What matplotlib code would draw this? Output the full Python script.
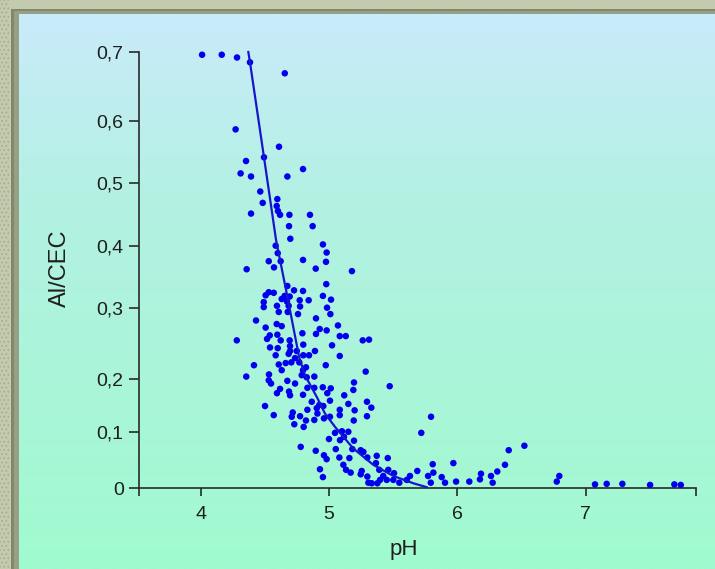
import numpy as np
import matplotlib
matplotlib.use("Agg")
import matplotlib.pyplot as plt
from matplotlib.colors import LinearSegmentedColormap
from matplotlib.patches import Rectangle
from matplotlib.scale import FuncScale

plt.rcParams['font.family'] = ['Liberation Sans', 'DejaVu Sans']
plt.rcParams['hatch.linewidth'] = 0.6

# ---------------- data ----------------
ph = [
    4.012, 4.165, 4.284, 4.385, 4.656, 4.273, 4.611, 4.494, 4.354, 4.798,
    4.312, 4.393, 4.676, 4.465, 4.598, 4.484, 4.593, 4.603, 4.393, 4.619,
    4.692, 4.852, 4.689, 4.873, 4.699,
    4.585, 4.953, 4.601, 4.982, 4.531, 4.624, 4.798, 4.977, 4.359, 4.572,
    4.897, 5.179, 4.979, 4.676, 4.531, 4.570, 4.728, 4.798, 4.507, 4.655,
    4.694, 4.953, 4.492, 4.632, 4.673, 4.772, 4.842, 5.016, 4.492, 4.595,
    4.686, 4.775, 4.985, 4.609, 4.679, 4.759, 5.011, 4.432, 4.899, 4.507,
    4.593, 4.632, 4.928, 5.070, 4.982, 4.793, 4.899, 4.539, 4.598, 5.084,
    5.131, 4.282, 4.518, 4.624, 4.694, 5.263, 5.312, 4.541, 4.601, 4.697,
    4.800, 5.024, 4.697, 4.749, 4.891, 4.585, 4.686, 4.800, 4.845, 5.084,
    4.736, 4.609, 4.663, 4.707, 4.769, 4.416, 4.975, 4.632, 4.798, 4.821,
    4.356, 4.533, 4.788, 4.827, 4.886, 5.286, 4.531, 4.549, 4.676, 4.736,
    4.619, 4.832, 4.886, 4.952, 5.014, 5.195, 5.473, 4.595, 4.689, 4.697,
    4.798, 4.987, 5.119, 5.190,
    5.151, 5.296, 5.330, 5.200, 5.084, 5.084, 5.193, 5.296, 5.008, 5.008,
    4.502, 4.570, 4.718, 4.710, 4.775, 4.832, 4.866, 4.905, 4.925, 4.956,
    4.910, 4.886, 4.821, 4.730, 4.803, 4.961, 5.000, 4.780, 4.897, 4.961,
    4.982, 4.930, 4.953,
    5.053, 5.081, 5.047, 5.086, 5.117, 5.101, 5.151, 5.195, 5.182, 5.112,
    5.133, 5.159, 5.169, 5.247, 5.268, 5.299, 5.255, 5.247, 5.299, 5.307,
    5.372, 5.366, 5.392, 5.458, 5.462, 5.423, 5.398, 5.507, 5.501, 5.548,
    5.333, 5.377, 5.450, 5.606, 5.631, 5.688, 5.719, 5.795,
    5.772, 5.813, 5.793, 5.878, 5.904, 5.990, 6.093, 6.184, 6.176, 6.262,
    6.275, 6.311, 6.794, 6.774, 7.072, 7.163, 7.285, 7.501, 7.690, 7.740,
    5.808, 5.969, 6.371, 6.400, 6.522,
]
al_cec = [
    0.696, 0.696, 0.692, 0.685, 0.669, 0.586, 0.558, 0.541, 0.535, 0.522,
    0.515, 0.510, 0.510, 0.486, 0.474, 0.468, 0.463, 0.455, 0.451, 0.449,
    0.449, 0.449, 0.431, 0.431, 0.411,
    0.400, 0.402, 0.388, 0.389, 0.375, 0.375, 0.377, 0.374, 0.362, 0.365,
    0.363, 0.359, 0.338, 0.335, 0.325, 0.324, 0.328, 0.327, 0.320, 0.319,
    0.318, 0.319, 0.309, 0.314, 0.310, 0.312, 0.312, 0.313, 0.301, 0.303,
    0.303, 0.302, 0.300, 0.294, 0.294, 0.291, 0.291, 0.282, 0.285, 0.272,
    0.277, 0.274, 0.270, 0.275, 0.268, 0.264, 0.263, 0.261, 0.262, 0.260,
    0.260, 0.254, 0.256, 0.254, 0.254, 0.254, 0.255, 0.244, 0.243, 0.246,
    0.248, 0.247, 0.239, 0.239, 0.239, 0.233, 0.235, 0.233, 0.233, 0.232,
    0.229, 0.220, 0.222, 0.223, 0.223, 0.219, 0.219, 0.212, 0.212, 0.216,
    0.203, 0.206, 0.205, 0.202, 0.203, 0.210, 0.197, 0.191, 0.196, 0.191,
    0.181, 0.183, 0.183, 0.184, 0.182, 0.193, 0.186, 0.173, 0.176, 0.169,
    0.170, 0.173, 0.169, 0.179,
    0.153, 0.157, 0.146, 0.141, 0.142, 0.132, 0.122, 0.130, 0.129, 0.159,
    0.149, 0.132, 0.137, 0.129, 0.130, 0.142, 0.157, 0.145, 0.151, 0.149,
    0.135, 0.123, 0.122, 0.115, 0.110, 0.126, 0.088, 0.074, 0.067, 0.059,
    0.052, 0.034, 0.020,
    0.070, 0.055, 0.099, 0.086, 0.092, 0.102, 0.101, 0.085, 0.070, 0.042,
    0.033, 0.054, 0.028, 0.068, 0.065, 0.055, 0.031, 0.025, 0.021, 0.010,
    0.058, 0.045, 0.033, 0.054, 0.033, 0.022, 0.015, 0.027, 0.015, 0.010,
    0.009, 0.009, 0.015, 0.015, 0.022, 0.031, 0.099, 0.129,
    0.022, 0.028, 0.010, 0.020, 0.010, 0.012, 0.012, 0.026, 0.016, 0.022,
    0.010, 0.030, 0.022, 0.012, 0.007, 0.008, 0.008, 0.006, 0.007, 0.006,
    0.043, 0.045, 0.042, 0.068, 0.076,
]

# fitted curve
curve_ph = [4.372, 4.385, 4.494, 4.588, 4.676, 4.767, 4.813, 4.905, 4.969,
            5.051, 5.190, 5.345, 5.501, 5.657, 5.761]
curve_ratio = [0.700, 0.685, 0.541, 0.409, 0.318, 0.231, 0.205, 0.166, 0.135,
               0.109, 0.071, 0.042, 0.022, 0.009, 0.002]

x_ticks = [4, 5, 6, 7]
x_tick_labels = ["4", "5", "6", "7"]
y_ticks = [0.0, 0.1, 0.2, 0.3, 0.4, 0.5, 0.6, 0.7]
y_tick_labels = ["0", "0,1", "0,2", "0,3", "0,4", "0,5", "0,6", "0,7"]
x_label = "pH"
y_label = "Al/CEC"

# ---------------- layout ----------------
W, H = 715, 569
fig = plt.figure(figsize=(W / 100, H / 100), dpi=100)
fig.patch.set_facecolor('#c3caad')

bg = fig.add_axes([0, 0, 1, 1])
bg.set_axis_off()
bg.add_patch(Rectangle((0, 0), 9, H, facecolor='#c3caad', edgecolor='#a2aa8a',
                       hatch='....', lw=0, zorder=1))
bg.add_patch(Rectangle((11, 9), W, H, facecolor='#7f896c', lw=0, zorder=1))
bg.add_patch(Rectangle((14, 11), W, H, facecolor='#97a084', lw=0, zorder=1))
cmap = LinearSegmentedColormap.from_list(
    'panel', ['#c9ebfa', '#b3f1e3', '#aaf5d9', '#a0fbcf'])
grad = np.linspace(0, 1, 256).reshape(-1, 1)
bg.imshow(grad, cmap=cmap, extent=[19, W, H, 14], aspect='auto',
          interpolation='bilinear', origin='upper', zorder=2)
bg.set_xlim(0, W)
bg.set_ylim(H, 0)

# y axis of the original is drawn with uneven tick spacing: map it piecewise
tick_heights = np.array([0, 56, 109.6, 180.6, 242.6, 305.6, 367.6, 436.3])
yt = np.array(y_ticks)


def fwd(v):
    v = np.asarray(v, dtype=float)
    out = np.interp(v, yt, tick_heights)
    lo = v < yt[0]
    hi = v > yt[-1]
    out = np.where(lo, tick_heights[0] + (v - yt[0]) * 560, out)
    out = np.where(hi, tick_heights[-1] + (v - yt[-1]) * 687, out)
    return out


def inv(h):
    h = np.asarray(h, dtype=float)
    out = np.interp(h, tick_heights, yt)
    lo = h < tick_heights[0]
    hi = h > tick_heights[-1]
    out = np.where(lo, yt[0] + (h - tick_heights[0]) / 560, out)
    out = np.where(hi, yt[-1] + (h - tick_heights[-1]) / 687, out)
    return out


ax_left, ax_right, ax_bottom, ax_top = 139, 696, 488.3, 52
ax = fig.add_axes([ax_left / W, (H - ax_bottom) / H,
                   (ax_right - ax_left) / W, (ax_bottom - ax_top) / H])
ax.set_facecolor('none')
ax.set_yscale(FuncScale(ax, (fwd, inv)))
xmin, xmax = 3.5206, 7.8586
ax.set_xlim(xmin, xmax)
ax.set_ylim(0, 0.7)

ax.scatter(ph, al_cec, s=22, color='#0000ee', edgecolors='none',
           zorder=3, clip_on=False)
ax.plot(curve_ph, curve_ratio, color='#1616cc', lw=1.6, zorder=4,
        clip_on=False)

for side in ['top', 'right']:
    ax.spines[side].set_visible(False)
for side in ['left', 'bottom']:
    ax.spines[side].set_color('#2a2a2a')
    ax.spines[side].set_linewidth(1.2)

ax.set_xticks(x_ticks)
ax.set_xticklabels(x_tick_labels)
ax.set_xticks([xmin, xmax], minor=True)
ax.set_yticks(y_ticks)
ax.set_yticklabels(y_tick_labels)
ax.yaxis.set_minor_locator(matplotlib.ticker.NullLocator())
ax.tick_params(axis='x', which='both', direction='out', length=5.5, width=1.2,
               color='#2a2a2a', labelsize=14, labelcolor='#1e1e1e', pad=7)
ax.tick_params(axis='y', which='both', direction='out', length=7, width=1.2,
               color='#2a2a2a', labelsize=14, labelcolor='#1e1e1e', pad=4)

fig.text(404 / W, 1 - 549 / H, x_label, fontsize=16, color='#1e1e1e',
         ha='center', va='center')
fig.text(60 / W, 1 - 268 / H, y_label, fontsize=17, color='#1e1e1e',
         ha='center', va='center', rotation=90)

fig.savefig('out.png', dpi=100, facecolor=fig.get_facecolor())
